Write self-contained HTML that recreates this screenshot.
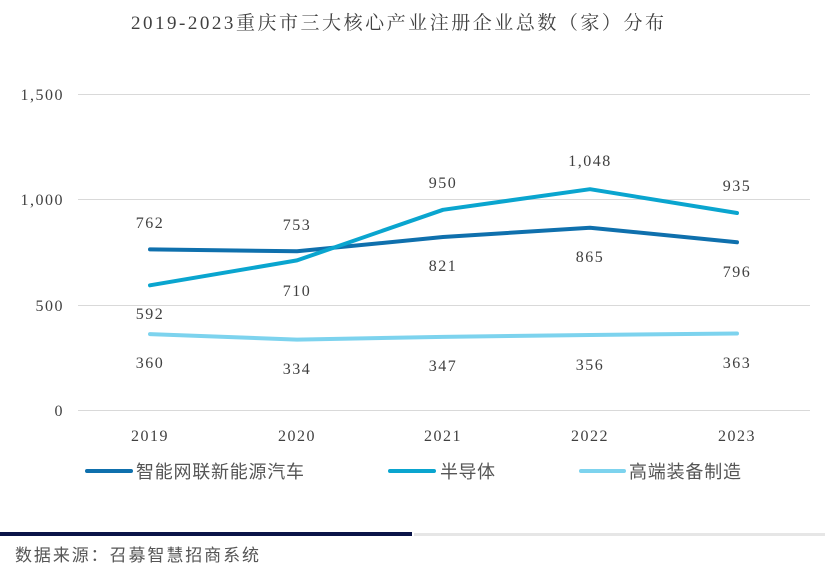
<!DOCTYPE html>
<html><head><meta charset="utf-8"><style>
body{margin:0;background:#fff;width:837px;height:570px;overflow:hidden}
svg{display:block}
text{font-family:"Liberation Serif","Noto Serif CJK SC",serif;fill:#404040}
.c{font-family:"Liberation Sans","Noto Sans CJK SC",sans-serif;fill:#555}
.n{letter-spacing:1.5px}
</style></head><body>
<svg width="837" height="570" xmlns="http://www.w3.org/2000/svg">
<text x="131" y="29" font-size="19" textLength="533">2019-2023重庆市三大核心产业注册企业总数（家）分布</text>
<g stroke="#d9d9d9" stroke-width="1">
<line x1="78" y1="94.5" x2="810" y2="94.5"/>
<line x1="78" y1="199.5" x2="810" y2="199.5"/>
<line x1="78" y1="305.5" x2="810" y2="305.5"/>
<line x1="78" y1="410.5" x2="810" y2="410.5"/>
</g>
<g font-size="16" text-anchor="end" class="n">
<text class="n" x="64" y="100">1,500</text><text class="n" x="64" y="205">1,000</text><text class="n" x="64" y="311">500</text><text class="n" x="64" y="416">0</text>
</g>
<g font-size="16" text-anchor="middle">
<text class="n" x="150" y="441">2019</text><text class="n" x="297" y="441">2020</text><text class="n" x="443" y="441">2021</text><text class="n" x="590" y="441">2022</text><text class="n" x="737" y="441">2023</text>
</g>
<g fill="none" stroke-width="4" stroke-linejoin="round" stroke-linecap="round">
<polyline stroke="#7dd3ee" points="150,334.1 297,339.6 443,336.9 590,335 737,333.5"/>
<polyline stroke="#0f70ad" points="150,249.4 297,251.3 443,237 590,227.7 737,242.3"/>
<polyline stroke="#0aa5cf" points="150,285.3 297,260.4 443,209.8 590,189.2 737,213"/>
</g>
<g font-size="16" text-anchor="middle">
<text class="n" x="150" y="228">762</text><text class="n" x="150" y="319">592</text><text class="n" x="150" y="368">360</text>
<text class="n" x="297" y="230">753</text><text class="n" x="297" y="296">710</text><text class="n" x="297" y="374">334</text>
<text class="n" x="443" y="188">950</text><text class="n" x="443" y="271">821</text><text class="n" x="443" y="371">347</text>
<text class="n" x="590" y="166">1,048</text><text class="n" x="590" y="262">865</text><text class="n" x="590" y="370">356</text>
<text class="n" x="737" y="191">935</text><text class="n" x="737" y="277">796</text><text class="n" x="737" y="368">363</text>
</g>
<g stroke-width="4" stroke-linecap="round">
<line x1="87" y1="471" x2="131" y2="471" stroke="#0f70ad"/>
<line x1="390" y1="471" x2="434" y2="471" stroke="#0aa5cf"/>
<line x1="581" y1="471" x2="624" y2="471" stroke="#7dd3ee"/>
</g>
<g font-size="18">
<text class="c" x="136" y="478" textLength="168">智能网联新能源汽车</text>
<text class="c" x="440" y="478" textLength="55">半导体</text>
<text class="c" x="629" y="478" textLength="112">高端装备制造</text>
</g>
<rect x="0" y="532" width="412" height="4" fill="#0a1448"/>
<rect x="414" y="533" width="411" height="3" fill="#e6e6e6"/>
<text class="c" x="15" y="561" font-size="17" textLength="244">数据来源：召募智慧招商系统</text>
</svg>
</body></html>
